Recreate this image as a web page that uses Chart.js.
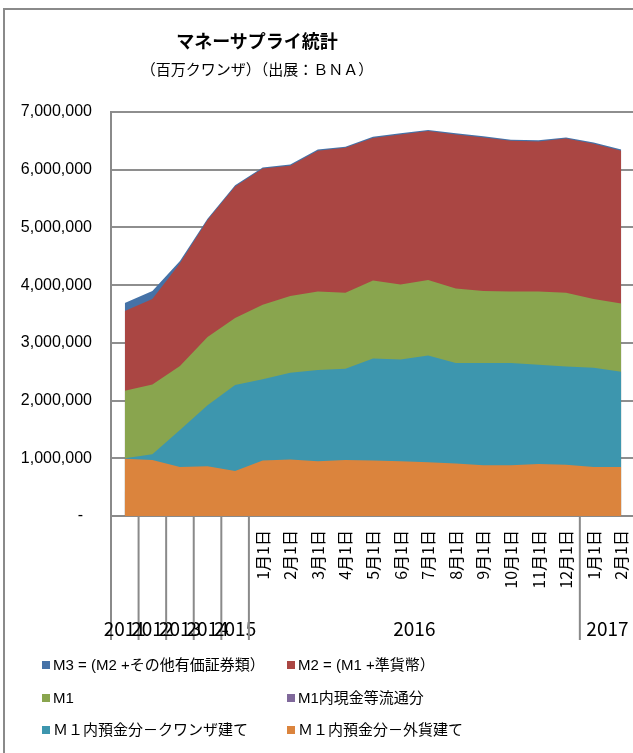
<!DOCTYPE html>
<html>
<head>
<meta charset="utf-8">
<script src="https://cdn.jsdelivr.net/npm/chart.js@4/dist/chart.umd.min.js"></script>
<style>
  body { margin: 0; overflow: hidden; background: #fff; }
  #wrap { position: relative; width: 633px; height: 753px; overflow: hidden; }
  #frame { position: absolute; left: 3px; top: 8px; width: 700px; height: 800px; border: 2px solid #8a8a8a; box-sizing: border-box; }
  #chart { position: absolute; left: 0; top: 0; }
  .ttl { position: absolute; left: 57px; width: 400px; text-align: center; font-family: "Noto Sans CJK JP", sans-serif; color: #000; white-space: nowrap; }
  #t1 { top: 27px; font-size: 18px; font-weight: bold; line-height: 26px; }
  #t2 { top: 58px; font-size: 15px; line-height: 22px; }
  .lg { position: absolute; font-family: "Liberation Sans", "Noto Sans CJK JP", sans-serif; font-size: 15px; line-height: 20px; white-space: nowrap; color: #000; }
  .lg i { display: inline-block; width: 8px; height: 8px; margin-right: 3px; vertical-align: 1px; }
</style>
</head>
<body>
<div id="wrap">
  <div id="frame"></div>
  <canvas id="chart" width="670" height="753"></canvas>
  <div class="ttl" id="t1">マネーサプライ統計</div>
  <div class="ttl" id="t2">（百万クワンザ）（出展：ＢＮＡ）</div>
  <div id="legend"></div>
</div>
<script>
// カテゴリ（内側ラベル）と年グループ
const categories = ['', '', '', '', '',
  '1月1日', '2月1日', '3月1日', '4月1日', '5月1日', '6月1日', '7月1日', '8月1日', '9月1日', '10月1日', '11月1日', '12月1日',
  '1月1日', '2月1日'];
const catYears = ['2011', '2012', '2013', '2014', '2015',
  '2016', '2016', '2016', '2016', '2016', '2016', '2016', '2016', '2016', '2016', '2016', '2016',
  '2017', '2017'];

// 系列（百万クワンザ）
const m3 = [3690000, 3900000, 4420000, 5150000, 5730000, 6040000, 6090000, 6350000, 6400000, 6570000, 6630000, 6690000, 6630000, 6580000, 6520000, 6510000, 6560000, 6470000, 6350000];
const m2 = [3550000, 3760000, 4380000, 5130000, 5710000, 6020000, 6070000, 6330000, 6380000, 6550000, 6610000, 6670000, 6610000, 6560000, 6500000, 6490000, 6540000, 6450000, 6330000];
const m1 = [2170000, 2280000, 2600000, 3100000, 3430000, 3660000, 3810000, 3890000, 3870000, 4080000, 4010000, 4090000, 3940000, 3900000, 3890000, 3890000, 3870000, 3760000, 3680000];
const m1Cash = [420000, 450000, 480000, 520000, 560000, 580000, 570000, 560000, 560000, 550000, 540000, 530000, 520000, 510000, 500000, 510000, 520000, 500000, 490000];
const m1Kwanza = [1000000, 1070000, 1490000, 1920000, 2270000, 2370000, 2480000, 2530000, 2550000, 2730000, 2710000, 2780000, 2650000, 2650000, 2650000, 2620000, 2590000, 2570000, 2500000];
const m1Foreign = [990000, 970000, 850000, 860000, 780000, 960000, 980000, 950000, 970000, 960000, 950000, 930000, 910000, 880000, 880000, 900000, 890000, 850000, 850000];

const yTicks = [0, 1000000, 2000000, 3000000, 4000000, 5000000, 6000000, 7000000];

const series = [
  { label: 'M3 = (M2 +その他有価証券類）', data: m3, color: '#4572A7' },
  { label: 'M2 = (M1 +準貨幣）', data: m2, color: '#AA4643' },
  { label: 'M1', data: m1, color: '#89A54E' },
  { label: 'M1内現金等流通分', data: m1Cash, color: '#80699B' },
  { label: 'Ｍ１内預金分－クワンザ建て', data: m1Kwanza, color: '#3D96AE' },
  { label: 'Ｍ１内預金分－外貨建て', data: m1Foreign, color: '#DB843D' }
];

// 年グループのラベルと区切り線
const yearGroups = {
  id: 'yearGroups',
  afterDraw(chart) {
    const ctx = chart.ctx;
    const x = chart.scales.x;
    const half = (x.getPixelForValue(1) - x.getPixelForValue(0)) / 2;
    const top = chart.chartArea.bottom;
    ctx.save();
    ctx.strokeStyle = '#8a8a8a';
    ctx.lineWidth = 2;
    ctx.fillStyle = '#000';
    ctx.font = '19px "Noto Sans CJK JP"';
    ctx.textAlign = 'center';
    ctx.textBaseline = 'middle';
    let start = 0;
    for (let i = 1; i <= catYears.length; i++) {
      if (i === catYears.length || catYears[i] !== catYears[start]) {
        const left = x.getPixelForValue(start) - half;
        const right = x.getPixelForValue(i - 1) + half;
        ctx.beginPath();
        ctx.moveTo(left, top);
        ctx.lineTo(left, 640);
        if (i === catYears.length) {
          ctx.moveTo(right, top);
          ctx.lineTo(right, 640);
        }
        ctx.stroke();
        ctx.fillText(catYears[start], (left + right) / 2, 629);
        start = i;
      }
    }
    ctx.restore();
  }
};

new Chart(document.getElementById('chart'), {
  type: 'line',
  data: {
    labels: categories,
    datasets: series.map((s, i) => ({
      label: s.label,
      data: s.data,
      order: series.length - i,
      backgroundColor: s.color,
      borderColor: s.color,
      borderWidth: 0,
      pointRadius: 0,
      tension: 0,
      fill: 'origin'
    }))
  },
  options: {
    responsive: false,
    animation: false,
    layout: { padding: { left: 0, right: 35, top: 112, bottom: 0 } },
    plugins: {
      legend: { display: false },
      tooltip: { enabled: false }
    },
    scales: {
      x: {
        offset: true,
        grid: { display: false, drawTicks: false },
        border: { display: true, color: '#8a8a8a', width: 2 },
        ticks: {
          autoSkip: false,
          maxRotation: 90,
          minRotation: 90,
          padding: 14,
          color: '#000',
          font: { family: '"Noto Sans CJK JP"', size: 16 }
        },
        afterFit(scale) { scale.height = 237; }
      },
      y: {
        min: 0,
        max: 7000000,
        afterBuildTicks(scale) { scale.ticks = yTicks.map(v => ({ value: v })); },
        grid: { color: '#8e8e8e', lineWidth: 2, drawTicks: false },
        border: { display: true, color: '#8a8a8a', width: 2 },
        ticks: {
          padding: 19,
          color: '#000',
          font: { family: '"Liberation Sans"', size: 16 },
          callback: v => v === 0 ? '-  ' : v.toLocaleString('en-US')
        },
        afterFit(scale) { scale.width = 111; }
      }
    }
  },
  plugins: [yearGroups]
});

// 凡例（2列×3行）
const legendPos = [[42, 655], [287, 655], [42, 688], [287, 688], [42, 720], [287, 720]];
const legend = document.getElementById('legend');
series.forEach((s, i) => {
  const d = document.createElement('div');
  d.className = 'lg';
  d.style.left = legendPos[i][0] + 'px';
  d.style.top = legendPos[i][1] + 'px';
  d.innerHTML = '<i style="background:' + s.color + '"></i>' + s.label;
  legend.appendChild(d);
});
</script>
</body>
</html>
